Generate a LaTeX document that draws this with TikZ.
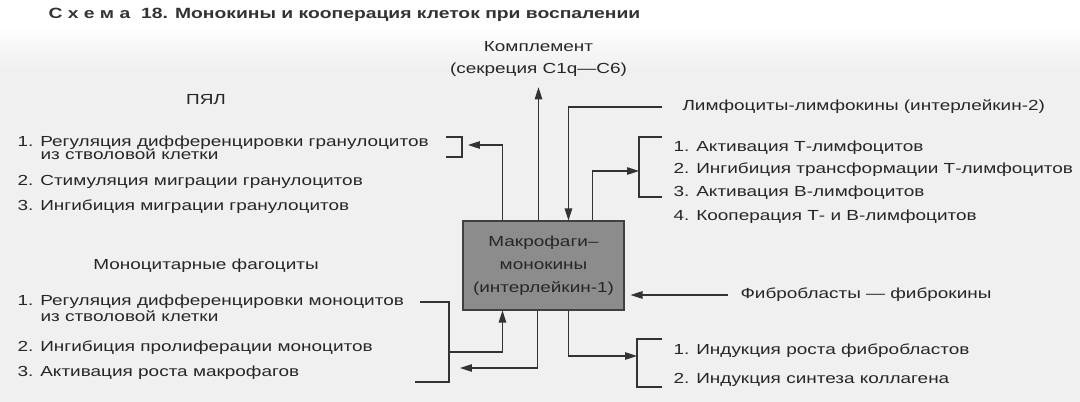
\documentclass[tikz,border=0pt]{standalone}
\usepackage{fontspec}
\setmainfont{Liberation Sans}[FakeStretch=1.3]
\usetikzlibrary{arrows.meta,positioning}

\tikzset{
  txt/.style={inner sep=0pt, text=black!85, font=\fontsize{8.3}{12.8}\selectfont},
  item/.style={txt, anchor=west, text height=6pt, text depth=1.8pt},
  head/.style={txt, align=center},
  title/.style={inner sep=0pt, anchor=west, text=black!80, font=\fontsize{8.45}{10}\selectfont\bfseries},
  macbox/.style={draw=black!75, fill=black!45, minimum width=3.22cm, minimum height=1.78cm,
                 align=center, inner sep=0pt, text=black!85, font=\fontsize{8.3}{13.1}\selectfont},
  wire/.style={draw=black!80}
}

\begin{document}
\begin{tikzpicture}[x=0.02cm, y=-0.02cm, >={Triangle[length=2.4mm,width=1.5mm]}, line width=0.6pt]
  \useasboundingbox (0,0) rectangle (1080,402);
  % background of the scan
  \fill[gray!12] (0,28) rectangle (1080,402);
  \shade[top color=white, bottom color=gray!12] (0,24) rectangle (1080,70);

  \node[title] (title) at (48,15) {С х е м а~~18. Монокины и кооперация клеток при воспалении};

  % central box
  \node[macbox] (mac) at (543.5,265.5) {Макрофаги–\\монокины\\(интерлейкин-1)};
  \node[head] (compl) at (538.5,59) {Комплемент\\(секреция C1q—C6)};

  % left: granulocytes
  \node[head] (pyal) at (206,100) {ПЯЛ};
  \node[item] (p1)  at (17,143) {1. Регуляция дифференцировки гранулоцитов};
  \node[item] (p1x) at (40,156) {из стволовой клетки};
  \node[item] (p2)  at (17,182) {2. Стимуляция миграции гранулоцитов};
  \node[item] (p3)  at (17,207) {3. Ингибиция миграции гранулоцитов};

  % left: monocytes
  \node[head] (mono) at (206,266) {Моноцитарные фагоциты};
  \node[item] (m1)  at (17,302) {1. Регуляция дифференцировки моноцитов};
  \node[item] (m1x) at (40,318) {из стволовой клетки};
  \node[item] (m2)  at (17,348) {2. Ингибиция пролиферации моноцитов};
  \node[item] (m3)  at (17,373) {3. Активация роста макрофагов};

  % right: lymphocytes
  \node[item] (lymph) at (682,107) {Лимфоциты-лимфокины (интерлейкин-2)};
  \node[item] (t1) at (673,148) {1. Активация Т-лимфоцитов};
  \node[item] (t2) at (673,170) {2. Ингибиция трансформации Т-лимфоцитов};
  \node[item] (t3) at (673,193) {3. Активация В-лимфоцитов};
  \node[item] (t4) at (673,217) {4. Кооперация Т- и В-лимфоцитов};

  % right: fibroblasts
  \node[item] (fibro) at (740,295) {Фибробласты — фиброкины};
  \node[item] (f1) at (673,351) {1. Индукция роста фибробластов};
  \node[item] (f2) at (673,380) {2. Индукция синтеза коллагена};

  % brackets
  \coordinate (pb) at (462,145);
  \draw[wire] (446,137) -| (462,157) -- (446,157);
  \coordinate (tb) at (639,171);
  \draw[wire] (662,137) -| (639,197) -- (662,197);
  \coordinate (fb) at (637,356);
  \draw[wire] (662,339) -| (637,387) -- (662,387);
  \coordinate (mb) at (449,352);
  \coordinate (mb2) at (449,368);
  \draw[wire] (420,302) -| (449,382) -- (415,382);

  % connectors
  \draw[wire, ->, shorten >=0.2cm] (mac.north -| compl) -- (compl.south);
  \draw[wire, ->, shorten >=0.12cm] ([xshift=0.8cm]mac.north west) |- (pb);
  \draw[wire, <-] ([xshift=2.12cm]mac.north west) |- ([xshift=-0.4cm]lymph.west);
  \draw[wire, ->] ([xshift=2.6cm]mac.north west) |- (tb);
  \draw[wire, ->, shorten >=0.12cm] ([xshift=-0.24cm]fibro.west) -- (fibro.west -| mac.east);
  \draw[wire, ->] ([xshift=2.12cm]mac.south west) |- (fb);
  \draw[wire, ->] (mb) -| ([xshift=0.8cm]mac.south west);
  \draw[wire, ->, shorten >=0.22cm] ([xshift=1.5cm]mac.south west) |- (mb2);
\end{tikzpicture}
\end{document}
